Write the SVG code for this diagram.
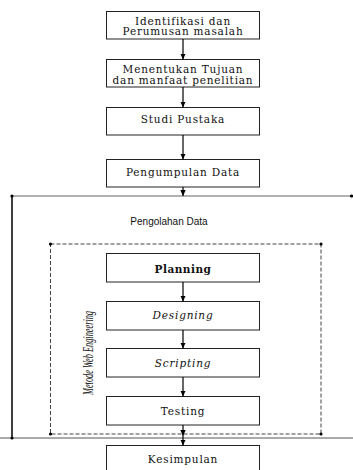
<svg xmlns="http://www.w3.org/2000/svg" width="353" height="470" viewBox="0 0 353 470">
<defs>
<marker id="ah" viewBox="0 0 6 6" refX="6" refY="3" markerWidth="6" markerHeight="6" markerUnits="userSpaceOnUse" orient="auto">
<path d="M0,0.3 L6,3 L0,5.7 z" fill="#000"/>
</marker>
</defs>
<style>
.box{fill:#fff;stroke:#222;stroke-width:1}
.t{font-family:"DejaVu Serif","Liberation Serif",serif;font-size:10.5px;fill:#111;text-anchor:middle;letter-spacing:0.8px}
.ti{font-style:italic}
.tb{font-weight:bold}
.arr{stroke:#000;stroke-width:1.2;fill:none;marker-end:url(#ah)}
.dot{fill:#000}
</style>
<rect width="353" height="470" fill="#fff"/>
<g id="frame">
<line x1="12" y1="196" x2="353" y2="196" stroke="#999" stroke-width="1.5"/>
<line x1="12" y1="196" x2="12" y2="438" stroke="#000" stroke-width="1.5"/>
<line x1="0" y1="438" x2="353" y2="438" stroke="#555" stroke-width="1"/>
<circle class="dot" cx="12" cy="196" r="1.6"/>
<circle class="dot" cx="351.5" cy="196" r="1.6"/>
<circle class="dot" cx="12" cy="438" r="1.6"/>
<text x="169" y="225" font-family="Liberation Sans, Arial, sans-serif" font-size="10" fill="#111" text-anchor="middle">Pengolahan Data</text>
</g>
<g id="metode">
<rect x="50.5" y="244" width="270.5" height="190" fill="none" stroke="#444" stroke-width="1" stroke-dasharray="4,2"/>
<circle class="dot" cx="50.5" cy="244" r="1.6"/>
<circle class="dot" cx="321" cy="244" r="1.6"/>
<circle class="dot" cx="50.5" cy="434" r="1.6"/>
<circle class="dot" cx="321" cy="434" r="1.6"/>
<text transform="translate(93,353) rotate(-90)" font-family="Liberation Serif, serif" font-style="italic" font-size="14" fill="#111" text-anchor="middle" textLength="84" lengthAdjust="spacingAndGlyphs">Metode Web Engineering</text>
</g>
<g id="n1"><rect class="box" x="106.5" y="11.5" width="153" height="27.5"/>
<text class="t" x="183" y="24.5">Identifikasi dan</text>
<text class="t" x="183" y="35">Perumusan masalah</text></g>
<g id="n2"><rect class="box" x="106.5" y="59.5" width="153" height="27.5"/>
<text class="t" x="183" y="73">Menentukan Tujuan</text>
<text class="t" x="183" y="83.5">dan manfaat penelitian</text></g>
<g id="n3"><rect class="box" x="106.5" y="107.5" width="153" height="27.5"/>
<text class="t" x="183" y="123">Studi Pustaka</text></g>
<g id="n4"><rect class="box" x="106.5" y="159.5" width="153" height="27.5"/>
<text class="t" x="183" y="176">Pengumpulan Data</text></g>
<g id="n5"><rect class="box" x="106.5" y="253.5" width="153" height="28.5"/>
<text class="t tb" x="183" y="272.5" style="letter-spacing:0.5px">Planning</text></g>
<g id="n6"><rect class="box" x="106.5" y="301.5" width="153" height="28.5"/>
<text class="t ti" x="183" y="319">Designing</text></g>
<g id="n7"><rect class="box" x="106.5" y="348.5" width="153" height="28.5"/>
<text class="t ti" x="183" y="366.5">Scripting</text></g>
<g id="n8"><rect class="box" x="106.5" y="396.5" width="153" height="28.5"/>
<text class="t" x="183" y="414.5">Testing</text></g>
<g id="n9"><rect class="box" x="106.5" y="445.5" width="153" height="30"/>
<text class="t" x="183" y="462.5">Kesimpulan</text></g>
<g id="connectors">
<line class="arr" x1="183" y1="39" x2="183" y2="59.5"/>
<line class="arr" x1="183" y1="87" x2="183" y2="107.5"/>
<line class="arr" x1="183" y1="135" x2="183" y2="159.5"/>
<line class="arr" x1="183" y1="187" x2="183" y2="196"/>
<line class="arr" x1="183" y1="282" x2="183" y2="301.5"/>
<line class="arr" x1="183" y1="330" x2="183" y2="348.5"/>
<line class="arr" x1="183" y1="377" x2="183" y2="396.5"/>
<line class="arr" x1="183" y1="425" x2="183" y2="436"/>
<line class="arr" x1="183" y1="436" x2="183" y2="445.5"/>
</g>
</svg>
